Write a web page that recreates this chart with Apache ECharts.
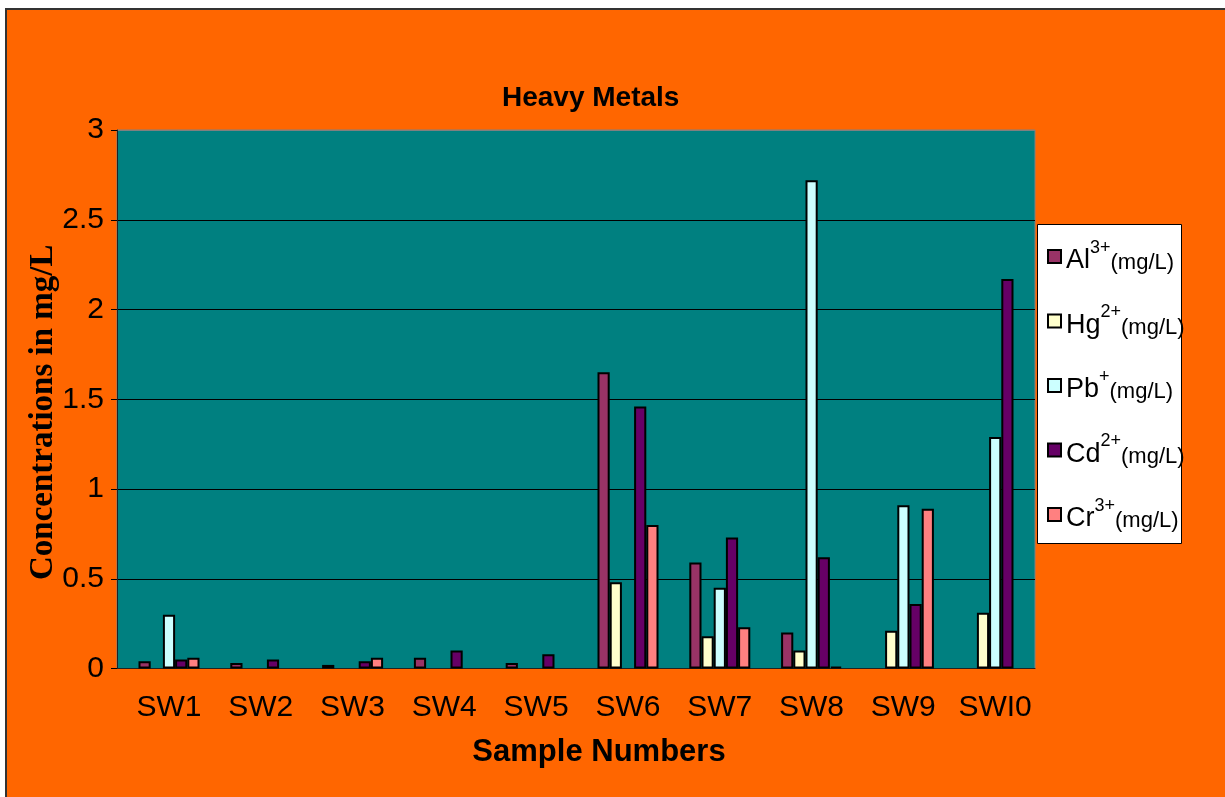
<!DOCTYPE html>
<html>
<head>
<meta charset="utf-8">
<title>Heavy Metals</title>
<script src="https://cdn.jsdelivr.net/npm/echarts@6/dist/echarts.min.js"></script>
<style>
  html, body { margin: 0; padding: 0; background: #fff; overflow: hidden; }
  #frame {
    position: absolute; left: 5px; top: 8px; width: 1240px; height: 810px;
    background: #ff6600; border: 2px solid #333;
  }
  #chart { position: absolute; left: 0; top: 0; width: 1225px; height: 797px; }
</style>
</head>
<body>
<div id="frame"></div>
<div id="chart"></div>
<script>
// sample sites
const samples = ["SW1", "SW2", "SW3", "SW4", "SW5", "SW6", "SW7", "SW8", "SW9", "SWI0"];
// ions and their charges (legend)
const ions = ["Al", "Hg", "Pb", "Cd", "Cr"];
const charges = ["3+", "2+", "+", "2+", "3+"];
const ionColors = ["#993366", "#ffffcc", "#ccffff", "#660066", "#ff8080"];
// concentrations, mg/L (0 = not detected, no bar drawn)
const al = [0.04, 0.03, 0.02, 0.06, 0.03, 1.65, 0.59, 0.20, 0, 0];
const hg = [0, 0, 0, 0, 0, 0.48, 0.18, 0.10, 0.21, 0.31];
const pb = [0.30, 0, 0, 0, 0, 0, 0.45, 2.72, 0.91, 1.29];
const cd = [0.05, 0.05, 0.04, 0.10, 0.08, 1.46, 0.73, 0.62, 0.36, 2.17];
const cr = [0.06, 0, 0.06, 0, 0, 0.80, 0.23, 0.01, 0.89, 0];
const values = [al, hg, pb, cd, cr];

const font = "'Liberation Sans', Arial, sans-serif";

const chart = echarts.init(document.getElementById("chart"));

// empty slot in front of the group, like the original spreadsheet layout
const series = [{
  name: "spacer",
  type: "bar",
  barWidth: 12.2,
  barGap: "0%",
  data: samples.map(() => null),
  silent: true
}];
ions.forEach((ion, i) => {
  series.push({
    name: ion,
    type: "bar",
    barWidth: 12.2,
    barGap: "0%",
    data: values[i].map(v => (v === 0 ? null : v)),
    itemStyle: { color: ionColors[i], borderColor: "#000", borderWidth: 2 }
  });
});

chart.setOption({
  animation: false,
  backgroundColor: "transparent",
  title: {
    text: "Heavy Metals",
    left: 502,
    top: 84,
    padding: 0,
    textStyle: { fontFamily: font, fontSize: 28, fontWeight: "bold", color: "#000" }
  },
  grid: {
    left: 117,
    right: 190,
    top: 130,
    bottom: 128.5,
    show: true,
    backgroundColor: "#008080",
    borderColor: "#808080",
    borderWidth: 1
  },
  graphic: [{
    type: "rect",
    z: 1,
    shape: { x: 1037.5, y: 224.5, width: 144, height: 319 },
    style: { fill: "#fff", stroke: "#000", lineWidth: 1 }
  }],
  legend: {
    data: ions,
    orient: "vertical",
    left: 1047,
    top: 230,
    z: 5,
    itemGap: 11.5,
    itemWidth: 13,
    itemHeight: 13,
    icon: "rect",
    padding: 0,
    itemStyle: { borderWidth: 2 },
    formatter: name => {
      const i = ions.indexOf(name);
      return "{m|" + name + "}{sup|" + charges[i] + "}{sub|(mg/L)}";
    },
    textStyle: {
      fontFamily: font,
      color: "#000",
      lineHeight: 44,
      padding: [9, 0, 0, 0],
      rich: {
        m: { fontFamily: font, fontSize: 27, lineHeight: 44, verticalAlign: "middle", color: "#000" },
        sup: { fontFamily: font, fontSize: 18, verticalAlign: "top", color: "#000" },
        sub: { fontFamily: font, fontSize: 22, verticalAlign: "top", padding: [13, 0, 0, 0], color: "#000" }
      }
    }
  },
  xAxis: {
    type: "category",
    data: samples,
    name: "Sample Numbers",
    nameLocation: "middle",
    nameGap: 68,
    nameMoveOverlap: false,
    nameTextStyle: {
      fontFamily: font, fontSize: 31, fontWeight: "bold", color: "#000",
      padding: [0, 0, 0, 46]
    },
    axisLine: { lineStyle: { color: "#222", width: 1 } },
    axisTick: { length: 7, lineStyle: { color: "#000" } },
    axisLabel: {
      interval: 0,
      fontFamily: font, fontSize: 30, color: "#000", margin: 24,
      padding: [0, 0, 0, 12]
    }
  },
  yAxis: {
    type: "value",
    min: 0,
    max: 3,
    interval: 0.5,
    name: "Concentrations in mg/L",
    nameLocation: "middle",
    nameGap: 57,
    nameMoveOverlap: false,
    nameTextStyle: {
      fontFamily: "'Liberation Serif', 'Times New Roman', serif",
      fontSize: 33, fontWeight: "bold", color: "#000",
      padding: [0, 26, 0, 0]
    },
    axisLine: { show: true, lineStyle: { color: "#222", width: 1 } },
    axisTick: { show: true, length: 6, lineStyle: { color: "#000" } },
    axisLabel: { fontFamily: font, fontSize: 30, color: "#000", margin: 13 },
    splitLine: {
      lineStyle: {
        color: ["#000", "#000", "#000", "#000", "#000", "#000", "#808080"],
        width: 1
      }
    }
  },
  series: series
});
</script>
</body>
</html>
